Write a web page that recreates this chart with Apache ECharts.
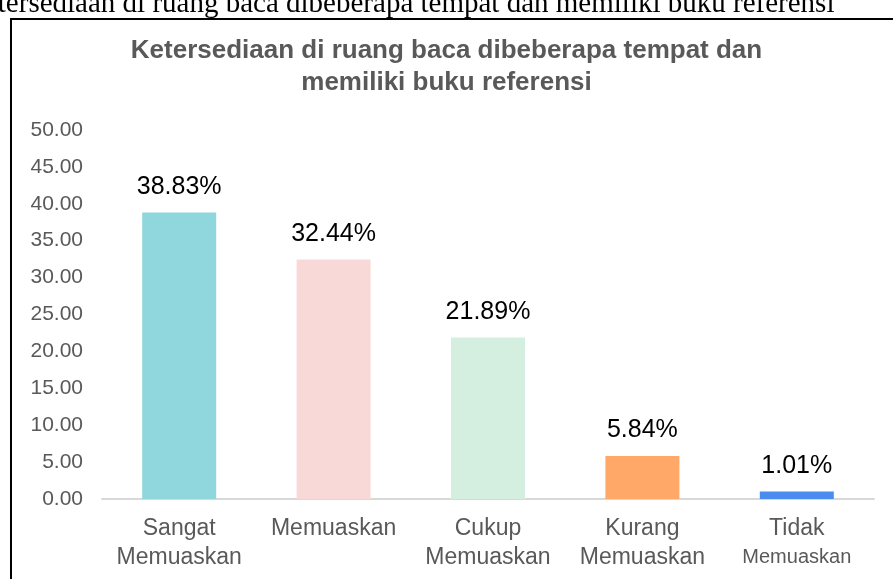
<!DOCTYPE html>
<html>
<head>
<meta charset="utf-8">
<script src="https://cdn.jsdelivr.net/npm/echarts@6/dist/echarts.min.js"></script>
<style>
  html, body { margin: 0; padding: 0; background: #fff; }
  #chart { width: 893px; height: 579px; }
</style>
</head>
<body>
<div id="chart"></div>
<script>
var categories = ['Sangat\nMemuaskan', 'Memuaskan', 'Cukup\nMemuaskan', 'Kurang\nMemuaskan', 'Tidak\nMemuaskan'];
var values = [38.83, 32.44, 21.89, 5.84, 1.01];
var barColors = ['#8fd6dd', '#f9d9d7', '#d4eedf', '#ffa867', '#4a8bef'];
var titleText = 'Ketersediaan di ruang baca dibeberapa tempat dan\nmemiliki buku referensi';
var captionText = 'Ketersediaan di ruang baca dibeberapa tempat dan memiliki buku referensi';

var chart = echarts.init(document.getElementById('chart'));
var font = '"Liberation Sans", Arial, sans-serif';

chart.setOption({
  animation: false,
  backgroundColor: '#fff',
  title: {
    text: titleText,
    left: 'center',
    top: 30,
    textStyle: {
      fontFamily: font,
      fontSize: 26,
      fontWeight: 'bold',
      color: '#595959',
      lineHeight: 32
    }
  },
  graphic: [
    {
      type: 'rect',
      shape: { x: 11, y: 19, width: 900, height: 600 },
      style: { fill: 'none', stroke: '#000', lineWidth: 2 },
      z: -1
    },
    {
      type: 'text',
      left: -36,
      top: -10,
      style: {
        text: captionText,
        fontFamily: '"Liberation Serif", "Times New Roman", serif',
        fontSize: 29,
        fill: '#000'
      }
    }
  ],
  grid: { left: 102, right: 19, top: 130, bottom: 80 },
  xAxis: {
    type: 'category',
    data: categories,
    axisLine: { lineStyle: { color: '#d9d9d9', width: 2 } },
    axisTick: { show: false },
    axisLabel: {
      interval: 0,
      margin: 15,
      fontFamily: font,
      fontSize: 23,
      lineHeight: 29,
      color: '#595959',
      formatter: function (v) {
        if (v.indexOf('Tidak') === 0) {
          return 'Tidak\n{s|Memuaskan}';
        }
        return v;
      },
      rich: {
        s: { fontFamily: font, fontSize: 20, color: '#595959', lineHeight: 29 }
      }
    }
  },
  yAxis: {
    type: 'value',
    min: 0,
    max: 50,
    interval: 5,
    splitLine: { show: false },
    axisLine: { show: false },
    axisTick: { show: false },
    axisLabel: {
      margin: 19,
      fontFamily: font,
      fontSize: 21,
      color: '#595959',
      formatter: function (v) { return v.toFixed(2); }
    }
  },
  series: [{
    type: 'bar',
    data: values.map(function (v, i) {
      return { value: v, itemStyle: { color: barColors[i] } };
    }),
    barWidth: 74,
    label: {
      show: true,
      position: 'top',
      distance: 13,
      fontFamily: font,
      fontSize: 25,
      color: '#000',
      formatter: function (p) { return p.value.toFixed(2) + '%'; }
    }
  }]
});
</script>
</body>
</html>
